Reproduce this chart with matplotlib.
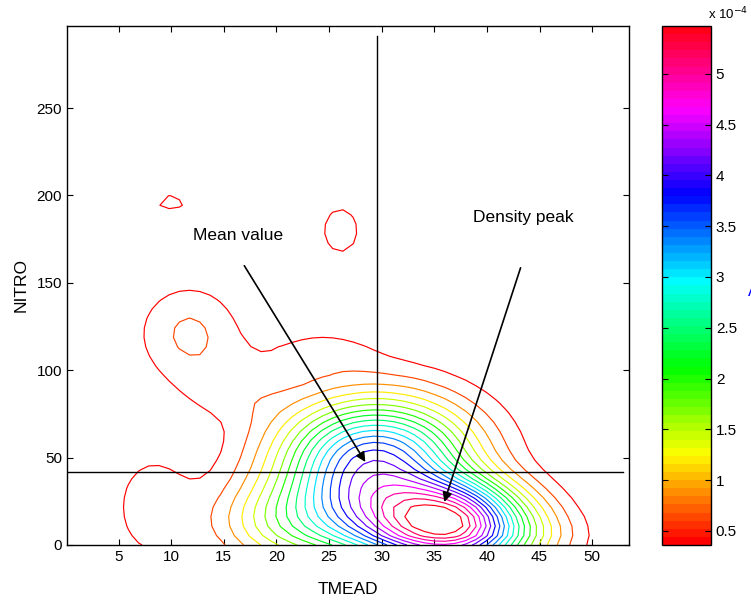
import matplotlib
matplotlib.use("Agg")
import matplotlib.pyplot as plt
import numpy as np
from matplotlib.colors import ListedColormap, Normalize
from matplotlib.cm import ScalarMappable

# kernel components of the TMEAD / NITRO density (weights in units of 1e-4)
comp_tmead = [35.9, 35.5, 29.5, 29.5, 21.0, 26.5, 38.0, 8.0, 11.7, 16.0, 10.0, 26.1, 24.0]
comp_nitro = [3.0, 22.0, 48.0, 62.0, 12.0, 22.0, 15.0, 22.0, 121.0, 88.0, 196.0, 180.0, 112.0]
comp_sd_tmead = [6.2, 5.6, 6.2, 7.5, 5.0, 3.5, 2.2, 3.0, 3.8, 3.5, 1.8, 1.93, 4.0]
comp_sd_nitro = [13.0, 13.0, 22.0, 28.0, 18.0, 18.0, 12.0, 26.0, 22.0, 12.0, 6.0, 15.0, 10.0]
comp_weight = [3.7, 2.9, 3.0, 0.85, 1.4, 0.5, 0.3, 0.5, 0.68, 0.3, 0.45, 0.5, 0.33]

tmead_range = [0.1, 53.5]
nitro_range = [0.0, 297.0]
level_range = [0.362, 5.47]
n_levels = 20
cbar_ticks = [0.5, 1, 1.5, 2, 2.5, 3, 3.5, 4, 4.5, 5]
cbar_labels = ["0.5", "1", "1.5", "2", "2.5", "3", "3.5", "4", "4.5", "5"]

mean_tmead = 29.6
mean_nitro = 41.8
mean_line_top = 291.0
mean_line_right = 52.9

mean_label_xy = (16.4, 177.0)
mean_arrow_from = (16.95, 159.8)
mean_arrow_to = (28.45, 47.5)
peak_label_xy = (43.5, 187.3)
peak_arrow_from = (43.2, 158.6)
peak_arrow_to = (35.95, 24.6)

plt.rcParams["font.family"] = ["Liberation Sans", "DejaVu Sans"]

# density surface on a regular grid
tmead_grid = np.linspace(tmead_range[0], tmead_range[1], 56)
nitro_grid = np.linspace(nitro_range[0], nitro_range[1], 56)
X, Y = np.meshgrid(tmead_grid, nitro_grid)
Z = np.zeros_like(X)
for cx, cy, sx, sy, w in zip(comp_tmead, comp_nitro, comp_sd_tmead, comp_sd_nitro, comp_weight):
    Z += w * np.exp(-0.5 * ((X - cx) / sx) ** 2 - 0.5 * ((Y - cy) / sy) ** 2)

levels = np.linspace(level_range[0], level_range[1], n_levels)
cmap = ListedColormap(plt.cm.hsv(np.linspace(0, 1, 64)))
norm = Normalize(vmin=level_range[0], vmax=level_range[1])

fig = plt.figure(figsize=(7.51, 6.01), dpi=100)
ax = fig.add_axes([0.0892, 0.0932, 0.7483, 0.8636])

ax.contour(X, Y, Z, levels=levels, colors=[cmap(norm(v)) for v in levels], linewidths=0.85)

# mean value cross-hair
ax.plot([mean_tmead, mean_tmead], [0, mean_line_top], color="k", lw=1.0)
ax.plot([tmead_range[0], mean_line_right], [mean_nitro, mean_nitro], color="k", lw=1.0)

arrow = dict(arrowstyle="-|>", color="k", lw=1.2, mutation_scale=14, shrinkA=0, shrinkB=0)
ax.annotate("", xy=mean_arrow_to, xytext=mean_arrow_from, arrowprops=arrow)
ax.annotate("", xy=peak_arrow_to, xytext=peak_arrow_from, arrowprops=arrow)
ax.text(*mean_label_xy, "Mean value", fontsize=12.5, ha="center", va="center")
ax.text(*peak_label_xy, "Density peak", fontsize=12.5, ha="center", va="center")

ax.set_xlim(tmead_range)
ax.set_ylim(nitro_range)
ax.set_xticks(np.arange(5, 51, 5))
ax.set_yticks(np.arange(0, 251, 50))
ax.tick_params(direction="in", top=True, right=True, length=4.5, labelsize=11)
ax.set_xlabel("TMEAD", fontsize=12.5, labelpad=13)
ax.set_ylabel("NITRO", fontsize=12.5, labelpad=6)
for sp in ax.spines.values():
    sp.set_linewidth(1.0)

cax = fig.add_axes([0.8815, 0.0932, 0.0652, 0.8636])
sm = ScalarMappable(norm=norm, cmap=cmap)
cb = fig.colorbar(sm, cax=cax, ticks=cbar_ticks)
cb.ax.set_yticklabels(cbar_labels)
cb.ax.tick_params(direction="in", left=True, right=True, length=4.5, labelsize=11)
cb.outline.set_linewidth(1.0)
fig.text(0.969, 0.976, r"x 10$^{-4}$", fontsize=9.5, ha="center", va="center")
fig.text(0.996, 0.515, "A", color="blue", fontsize=12, ha="left", va="center")

fig.savefig("out.png", dpi=100)
